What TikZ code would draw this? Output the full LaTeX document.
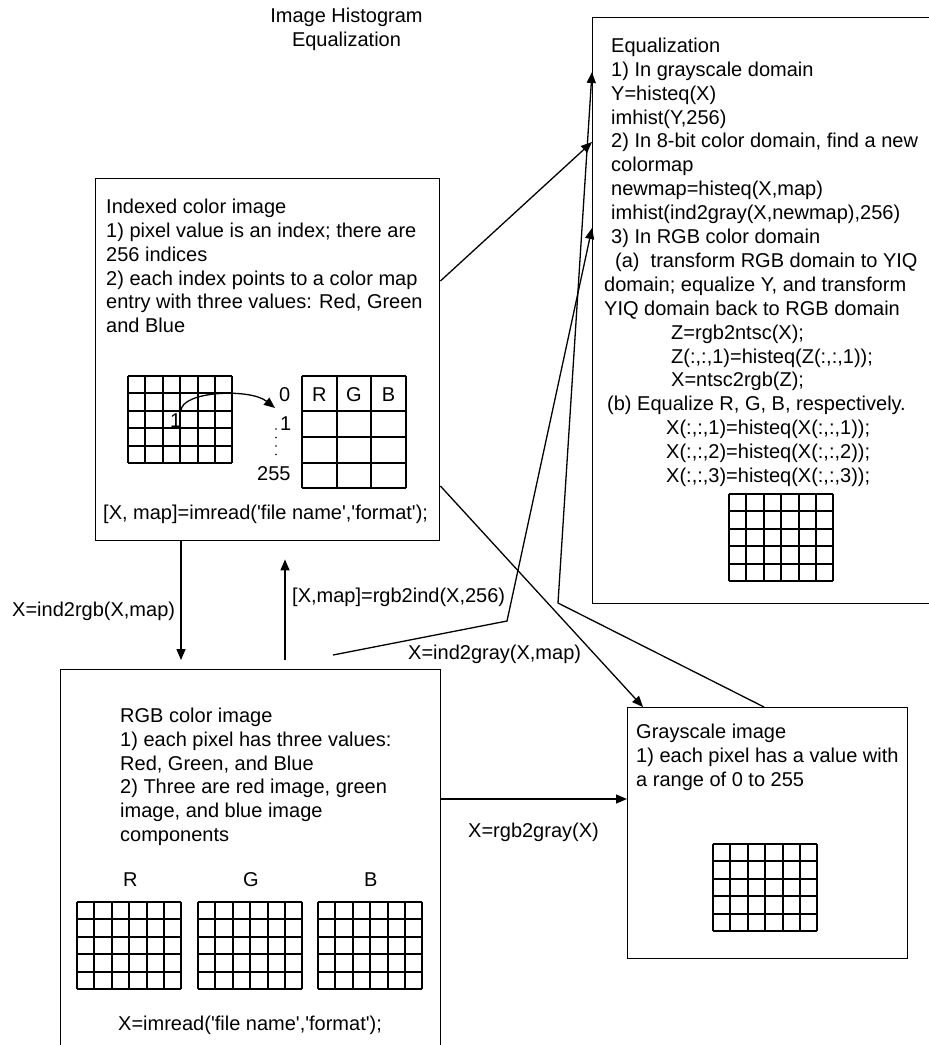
\documentclass[tikz,border=0pt]{standalone}
\usepackage{fontspec}
\setmainfont{Liberation Sans}
\usetikzlibrary{arrows.meta,calc}
\newcommand{\q}{\textquotesingle}
\tikzset{
  box/.style={draw, line width=1.4pt, inner sep=0pt, rectangle, anchor=north west},
  txt/.style={font=\fontsize{20}{23.9}\selectfont, inner sep=0pt, anchor=base west, align=left},
  arr/.style={line width=1.3pt, -{Triangle[length=11pt,width=9pt]}},
  conn/.style={line width=1.3pt},
  gridln/.style={line width=1.3pt},
  pics/pixgrid/.style={code={
    \foreach \gx in {0,17,35,52,70,87,104} \draw[gridln] (\gx,0) -- (\gx,87);
    \foreach \gy in {0,17,35,52,70,87} \draw[gridln] (0,\gy) -- (104,\gy);
  }},
}
\begin{document}
\begin{tikzpicture}[x=1pt,y=-1pt]
\clip (0,0) rectangle (929,1045);
\fill[white] (0,0) rectangle (929,1045);

% title (base anchor = baseline of last line)
\node[txt, anchor=base, align=center] (title) at (346.5,46.2) {Image Histogram\\Equalization};

% boxes
\node[box, minimum width=344pt, minimum height=362pt] (idx) at (95,178) {};
\node[box, minimum width=400pt, minimum height=586pt] (eq) at (592,17) {};
\node[box, minimum width=380pt, minimum height=400pt] (rgb) at (60,669) {};
\node[box, minimum width=280pt, minimum height=251pt] (gray) at (627,707) {};

% indexed box contents
\node[txt] (idxt) at (106,332.8) {Indexed color image\\1) pixel value is an index; there are\\256 indices\\2) each index points to a color map\\entry with three values: Red, Green\\and Blue};
\pic at (128,376) {pixgrid};
\node[txt, anchor=base east] (one) at (181.5,427) {1};
\node[txt] (zero) at (279,401) {0};
\node[txt] (idx1) at (280,430) {1};
\node[txt] (idx255) at (257,480) {255};
\foreach \yy in {429,437.5,446,454.5} \fill (276,\yy) circle (0.9);
% colour map table
\foreach \xx in {302,337,371,406} \draw[gridln] (\xx,376) -- (\xx,488);
\foreach \yy in {376,411,437,463,488} \draw[gridln] (302,\yy) -- (406,\yy);
\node[txt, anchor=base] (tR) at (319.3,401) {R};
\node[txt, anchor=base] (tG) at (354,401) {G};
\node[txt, anchor=base] (tB) at (388.6,401) {B};
\draw[arr] (181,411) .. controls (181,391) and (250,388) .. (275,408);
\node[txt] (idxread) at (103,519) {[X, map]=imread(\q file name\q,\q format\q);};

% equalization box contents
\node[txt] (eqt) at (604,482.5) {\hspace*{7pt}Equalization\\
\hspace*{7pt}1) In grayscale domain\\
\hspace*{7pt}Y=histeq(X)\\
\hspace*{7pt}imhist(Y,256)\\
\hspace*{7pt}2) In 8-bit color domain, find a new\\
\hspace*{7pt}colormap\\
\hspace*{7pt}newmap=histeq(X,map)\\
\hspace*{7pt}imhist(ind2gray(X,newmap),256)\\
\hspace*{7pt}3) In RGB color domain\\
\hspace*{11pt}(a)\ \ transform RGB domain to YIQ\\
domain; equalize Y, and transform\\
YIQ domain back to RGB domain\\
\hspace*{67pt}Z=rgb2ntsc(X);\\
\hspace*{67pt}Z(:,:,1)=histeq(Z(:,:,1));\\
\hspace*{67pt}X=ntsc2rgb(Z);\\
\hspace*{3pt}(b) Equalize R, G, B, respectively.\\
\hspace*{62pt}X(:,:,1)=histeq(X(:,:,1));\\
\hspace*{62pt}X(:,:,2)=histeq(X(:,:,2));\\
\hspace*{62pt}X(:,:,3)=histeq(X(:,:,3));};
\pic at (729,494) {pixgrid};

% RGB box contents
\node[txt] (rgbt) at (120,841.7) {RGB color image\\1) each pixel has three values:\\Red, Green, and Blue\\2) Three are red image, green\\image, and blue image\\components};
\node[txt] (lR) at (123,886) {R};
\node[txt] (lG) at (243,886) {G};
\node[txt] (lB) at (364,886) {B};
\pic at (77,902) {pixgrid};
\pic at (198,902) {pixgrid};
\pic at (318,902) {pixgrid};
\node[txt] (rgbread) at (118,1030) {X=imread(\q file name\q,\q format\q);};

% grayscale box contents
\node[txt] (grayt) at (636,786.1) {Grayscale image\\1) each pixel has a value with\\a range of 0 to 255};
\pic at (713,844) {pixgrid};

% connectors
\draw[arr] ([xshift=86pt]idx.south west) -- ([xshift=121pt,yshift=9pt]rgb.north west);
\draw[arr] ([xshift=225pt,yshift=9pt]rgb.north west) -- ([xshift=190pt,yshift=-18pt]idx.south west);
\draw[arr] ([yshift=-103pt]idx.north east) -- ([yshift=-125pt]eq.north west);
\draw[arr] ([yshift=-308pt]idx.north east) -- ([xshift=16pt]gray.north west);
\draw[arr] ([xshift=273pt,yshift=14pt]rgb.north west) -- (507,621) -- ([yshift=-211pt]eq.north west);
\draw[arr] ([xshift=137pt]gray.north west) -- (558,603) -- ([yshift=-55pt]eq.north west);
\draw[arr] ([yshift=-130pt]rgb.north east) -- ([yshift=-92pt]gray.north west);

% connector labels
\node[txt] (l1) at (12,616.7) {X=ind2rgb(X,map)};
\node[txt] (l2) at (292,602.7) {[X,map]=rgb2ind(X,256)};
\node[txt] (l3) at (408,659) {X=ind2gray(X,map)};
\node[txt] (l4) at (468,837) {X=rgb2gray(X)};
\end{tikzpicture}
\end{document}
